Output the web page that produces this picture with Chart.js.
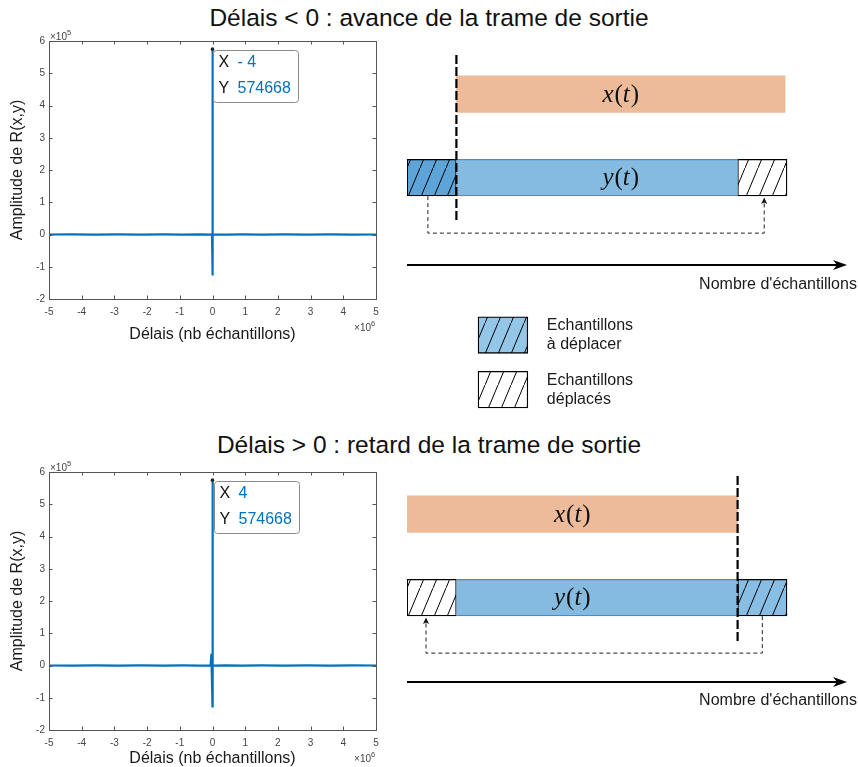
<!DOCTYPE html>
<html><head><meta charset="utf-8">
<script src="https://cdn.jsdelivr.net/npm/chart.js@4.4.1/dist/chart.umd.min.js"></script>
<style>
html,body{margin:0;padding:0;background:#fff}
body{width:858px;height:767px;position:relative;overflow:hidden;font-family:Arial,"Liberation Sans",sans-serif}
.title{position:absolute;left:0;width:858px;text-align:center;font-size:24.5px;color:#111;line-height:28px}
canvas{position:absolute}
</style></head>
<body>
<div class="title" style="top:4px">Délais &lt; 0 : avance de la trame de sortie</div>
<div class="title" style="top:431px">Délais &gt; 0 : retard de la trame de sortie</div>
<canvas id="c1" width="390" height="325" style="left:0;top:25px"></canvas>
<canvas id="c2" width="390" height="311" style="left:0;top:456px"></canvas>
<canvas id="d1" width="451" height="368" style="left:407px;top:44px"></canvas>
<canvas id="d2" width="451" height="248" style="left:407px;top:464px"></canvas>
<script>
// ---------- data: correlation plots ----------
const xTickValues = [-5e6,-4e6,-3e6,-2e6,-1e6,0,1e6,2e6,3e6,4e6,5e6];
const xTickLabels = ['-5','-4','-3','-2','-1','0','1','2','3','4','5'];
const yTickValues = [-2e5,-1e5,0,1e5,2e5,3e5,4e5,5e5,6e5];
const yTickLabels = ['-2','-1','0','1','2','3','4','5','6'];
const xTitle = 'Délais (nb échantillons)';
const yTitle = 'Amplitude de R(x,y)';

const lagsTop = [-5000000,-4300000,-3600000,-2900000,-2200000,-1500000,-900000,-400000,-15000,-8,-4,2,15000,400000,900000,1500000,2200000,2900000,3600000,4300000,5000000];
const ampTop  = [0,100,-150,200,-200,250,-250,300,-300,-127000,574668,-96000,300,-300,250,-250,200,-200,150,-100,0];

const lagsBot = [-5000000,-4300000,-3600000,-2900000,-2200000,-1500000,-900000,-400000,-60000,-30000,-26000,-8,4,10,15000,400000,900000,1500000,2200000,2900000,3600000,4300000,5000000];
const ampBot  = [0,-100,150,-200,200,-250,250,-300,300,37000,-6000,-127000,574668,-90000,-300,300,-250,250,-200,200,-150,100,0];

// ---------- data: schematic diagrams (in sample units) ----------
const diagTop = {
  xFrame:[13,99.5], yMoveSeg:[0,13], yMain:[13,87], yMovedSeg:[87,100],
  cut:13, loop:[5.5,94], legend:true
};
const diagBot = {
  xFrame:[0,87], yMovedSeg:[0,13], yMain:[13,87], yMoveSeg:[87,100],
  cut:87, loop:[93.5,5], legend:false
};
const legendItems = ['Echantillons\nà déplacer','Echantillons\ndéplacés'];
const axisLabel = "Nombre d'échantillons";

const BLUE = '#0072BD';
const FONT = 'Arial, "Liberation Sans", sans-serif';

// ---------- MATLAB-like axes plugin ----------
const matlabAxes = {
  id:'matlabAxes',
  afterDraw(chart){
    const {ctx, chartArea:a, scales:{x,y}} = chart;
    ctx.save();
    ctx.strokeStyle = '#555'; ctx.lineWidth = 1;
    ctx.strokeRect(Math.round(a.left)+0.5, Math.round(a.top)+0.5, Math.round(a.right-a.left), Math.round(a.bottom-a.top));
    ctx.beginPath();
    xTickValues.forEach(v=>{
      const p = Math.round(x.getPixelForValue(v))+0.5;
      ctx.moveTo(p,a.bottom); ctx.lineTo(p,a.bottom-3.5);
      ctx.moveTo(p,a.top); ctx.lineTo(p,a.top+3.5);
    });
    yTickValues.forEach(v=>{
      const p = Math.round(y.getPixelForValue(v))+0.5;
      ctx.moveTo(a.left,p); ctx.lineTo(a.left+3.5,p);
      ctx.moveTo(a.right,p); ctx.lineTo(a.right-3.5,p);
    });
    ctx.stroke();
    // exponent labels
    ctx.fillStyle = '#444';
    ctx.textBaseline = 'alphabetic';
    ctx.font = '10px '+FONT; ctx.textAlign='left';
    ctx.fillText('×10', a.left+1, a.top-1.5);
    let w = ctx.measureText('×10').width;
    ctx.font = '7.5px '+FONT; ctx.fillText('5', a.left+1+w, a.top-6.5);
    ctx.font = '10px '+FONT;
    const w2 = ctx.measureText('×10').width;
    ctx.fillText('×10', a.right-5-w2, a.bottom+32);
    ctx.font = '7.5px '+FONT; ctx.fillText('6', a.right-5, a.bottom+27);
    ctx.restore();
  },
  afterDatasetsDraw(chart){
    const {ctx, scales:{x,y}} = chart;
    const ds = chart.data.datasets[0].data;
    let k = 0; ds.forEach((d,i)=>{ if(d.y>ds[k].y) k=i; });
    const px = x.getPixelForValue(ds[k].x), py = y.getPixelForValue(ds[k].y);
    ctx.save();
    ctx.fillStyle = '#222';
    ctx.beginPath(); ctx.arc(px,py,1.8,0,Math.PI*2); ctx.fill();
    const bx = Math.round(px)+1.5, by = Math.round(py)+1.5, bw = 85, bh = 52, r = 3;
    ctx.beginPath();
    ctx.moveTo(bx+r,by); ctx.lineTo(bx+bw-r,by); ctx.quadraticCurveTo(bx+bw,by,bx+bw,by+r);
    ctx.lineTo(bx+bw,by+bh-r); ctx.quadraticCurveTo(bx+bw,by+bh,bx+bw-r,by+bh);
    ctx.lineTo(bx+r,by+bh); ctx.quadraticCurveTo(bx,by+bh,bx,by+bh-r);
    ctx.lineTo(bx,by+r); ctx.quadraticCurveTo(bx,by,bx+r,by); ctx.closePath();
    ctx.fillStyle='#fff'; ctx.fill(); ctx.strokeStyle='#8a8a8a'; ctx.lineWidth=1; ctx.stroke();
    ctx.font = '16px '+FONT; ctx.textBaseline='middle'; ctx.textAlign='left';
    const xv = ds[k].x, xs = (xv<0?'- ':'')+Math.abs(xv);
    ctx.fillStyle='#111'; ctx.fillText('X', bx+5, by+12); ctx.fillText('Y', bx+5, by+38);
    ctx.fillStyle=BLUE; ctx.fillText(xs, bx+24, by+12); ctx.fillText(String(ds[k].y), bx+24, by+38);
    ctx.restore();
  }
};

function corrChart(id, lags, amps, xScaleHeight, titlePadBottom){
  return new Chart(document.getElementById(id), {
    type:'line',
    data:{datasets:[{data:lags.map((l,i)=>({x:l,y:amps[i]})), borderColor:BLUE, borderWidth:2.2, pointRadius:0, tension:0, fill:false}]},
    options:{
      responsive:false, animation:false, events:[],
      layout:{padding:{top:16,right:14,left:0,bottom:0}},
      plugins:{legend:{display:false}, tooltip:{enabled:false}},
      scales:{
        x:{type:'linear', min:-5e6, max:5e6,
           afterBuildTicks:s=>{s.ticks = xTickValues.map(v=>({value:v}));},
           ticks:{callback:v=>xTickLabels[xTickValues.indexOf(v)], font:{size:10,family:FONT}, color:'#444', padding:7, maxRotation:0, autoSkip:false},
           grid:{display:false, drawTicks:false}, border:{display:false},
           title:{display:true, text:xTitle, font:{size:16,family:FONT}, color:'#1a1a1a', padding:{top:0,bottom:titlePadBottom}},
           afterFit:s=>{s.height=xScaleHeight;}},
        y:{type:'linear', min:-2e5, max:6e5,
           afterBuildTicks:s=>{s.ticks = yTickValues.map(v=>({value:v}));},
           ticks:{callback:v=>yTickLabels[yTickValues.indexOf(v)], font:{size:10,family:FONT}, color:'#444', padding:4, autoSkip:false},
           grid:{display:false, drawTicks:false}, border:{display:false},
           title:{display:true, text:yTitle, font:{size:16,family:FONT}, color:'#1a1a1a', padding:{top:7.5,bottom:0}},
           afterFit:s=>{s.width=49;}}
      }
    },
    plugins:[matlabAxes]
  });
}
corrChart('c1', lagsTop, ampTop, 51, 5.5);
corrChart('c2', lagsBot, ampBot, 37, -1.5);

// ---------- schematic diagrams ----------
function hatch(canvasId, bg){
  const c = document.createElement('canvas'); c.width = 13; c.height = 31;
  const g = c.getContext('2d');
  if(bg){ g.fillStyle = bg; g.fillRect(0,0,13,31); }
  g.strokeStyle = '#000'; g.lineWidth = 1;
  g.beginPath(); g.moveTo(-1, 31+2.4); g.lineTo(14, -2.4); g.stroke();
  return document.getElementById(canvasId).getContext('2d').createPattern(c,'repeat');
}

const SERIF = '"Liberation Serif", "DejaVu Serif", serif';
const diagramPlugin = {
  id:'diagram',
  afterDatasetsDraw(chart, args, o){
    const {ctx, scales:{x,y}} = chart;
    const X = v=>x.getPixelForValue(v), Y = v=>y.getPixelForValue(v);
    ctx.save();
    // cut line
    ctx.strokeStyle='#000'; ctx.lineWidth=2.2; ctx.setLineDash([9,3]);
    ctx.beginPath(); ctx.moveTo(X(o.cut), Y(o.cutSpan[0])); ctx.lineTo(X(o.cut), Y(o.cutSpan[1])); ctx.stroke();
    // loop connector
    const barBottom = Y(2)+18.5;
    ctx.lineWidth=1; ctx.setLineDash([4,3]); ctx.strokeStyle='#222';
    ctx.beginPath();
    ctx.moveTo(X(o.loop[0]), barBottom); ctx.lineTo(X(o.loop[0]), Y(o.loopY));
    ctx.lineTo(X(o.loop[1]), Y(o.loopY)); ctx.lineTo(X(o.loop[1]), barBottom+6);
    ctx.stroke(); ctx.setLineDash([]);
    ctx.fillStyle='#111';
    const ax = X(o.loop[1]);
    ctx.beginPath(); ctx.moveTo(ax, barBottom+1.5); ctx.lineTo(ax-3, barBottom+8); ctx.lineTo(ax, barBottom+6.5); ctx.lineTo(ax+3, barBottom+8); ctx.closePath(); ctx.fill();
    // sample axis
    const ay = Y(o.axisY), tx = X(o.axisEnd);
    ctx.strokeStyle='#000'; ctx.lineWidth=2;
    ctx.beginPath(); ctx.moveTo(X(0), ay); ctx.lineTo(tx-8, ay); ctx.stroke();
    ctx.fillStyle='#000';
    ctx.beginPath(); ctx.moveTo(tx, ay); ctx.lineTo(tx-14, ay-5); ctx.lineTo(tx-10, ay); ctx.lineTo(tx-14, ay+5); ctx.closePath(); ctx.fill();
    ctx.font='16px '+FONT; ctx.fillStyle='#1a1a1a'; ctx.textAlign='right'; ctx.textBaseline='middle';
    ctx.fillText(axisLabel, X(o.axisLabelX), Y(o.axisLabelY));
    // math labels x(t), y(t)
    const cx = X((o.xFrame[0]+o.xFrame[1])/2);
    [['x',1],['y',2]].forEach(([v,row])=>{
      const parts=[[v,'italic'],['(','normal'],['t','italic'],[')','normal']];
      let tot=0; const ws=parts.map(p=>{ctx.font=(p[1]==='italic'?'italic ':'')+'25px '+SERIF; const w=ctx.measureText(p[0]).width+(p[0]==='t'?1:0)+(p[0]===v?1:0); tot+=w; return w;});
      let sx = cx - tot/2;
      ctx.fillStyle='#111'; ctx.textAlign='left'; ctx.textBaseline='middle';
      parts.forEach((p,i)=>{ctx.font=(p[1]==='italic'?'italic ':'')+'25px '+SERIF; ctx.fillText(p[0], sx, Y(row)+1); sx+=ws[i];});
    });
    // legend texts
    if(o.legendRows){
      ctx.font='16px '+FONT; ctx.fillStyle='#1a1a1a'; ctx.textAlign='left'; ctx.textBaseline='middle';
      o.legendRows.forEach((r,i)=>{
        const lines = legendItems[i].split('\n');
        ctx.fillText(lines[0], X(o.legendTextX), Y(r)-9.5);
        ctx.fillText(lines[1], X(o.legendTextX), Y(r)+9.5);
      });
    }
    ctx.restore();
  }
};

function seg(range,row){ return [{x:range, y:row}]; }

function diagram(id, d, yMax, extra, moveColor){
  const datasets = [
    {data:seg(d.xFrame,1), backgroundColor:'#EDBB99', borderWidth:0},
    {data:seg(d.yMain,2), backgroundColor:'#85BBE1', borderColor:'#3D8FD1', borderWidth:{top:1.3,bottom:1.3,left:0,right:0}},
    {data:seg(d.yMoveSeg,2), backgroundColor:hatch(id, moveColor), borderColor:'#000', borderWidth:1.3},
    {data:seg(d.yMovedSeg,2), backgroundColor:hatch(id, '#fff'), borderColor:'#000', borderWidth:1.3}
  ];
  if(d.legend){
    datasets.push({data:seg(extra.legendBox,extra.legendRows[0]), backgroundColor:hatch(id,'#94C6E8'), borderColor:'#000', borderWidth:1.3});
    datasets.push({data:seg(extra.legendBox,extra.legendRows[1]), backgroundColor:hatch(id,'#fff'), borderColor:'#000', borderWidth:1.3});
  }
  return new Chart(document.getElementById(id), {
    type:'bar',
    data:{datasets},
    options:{
      indexAxis:'y', responsive:false, animation:false, events:[],
      layout:{padding:0},
      datasets:{bar:{grouped:false, barThickness:36.5, borderSkipped:false}},
      plugins:{legend:{display:false}, tooltip:{enabled:false},
        diagram:Object.assign({cut:d.cut, loop:d.loop, xFrame:d.xFrame}, extra)},
      scales:{
        x:{type:'linear', min:0, max:451/3.8, display:false},
        y:{type:'linear', min:0.4, max:yMax, reverse:true, offset:false, display:false}
      }
    },
    plugins:[diagramPlugin]
  });
}

diagram('d1', diagTop, 0.4+368/83.5, {
  cutSpan:[0.533,2.545], loopY:2.665, axisY:3.048, axisEnd:115.8, axisLabelX:118.4, axisLabelY:3.287,
  legendRows:[3.886,4.539], legendBox:[18.7,31.8], legendTextX:36.8
}, '#5DA4D8');
diagram('d2', diagBot, 0.4+248/83.5, {
  cutSpan:[0.545,2.545], loopY:2.665, axisY:3.01, axisEnd:115.8, axisLabelX:118.4, axisLabelY:3.23
}, '#88BEE3');
</script>
</body></html>
